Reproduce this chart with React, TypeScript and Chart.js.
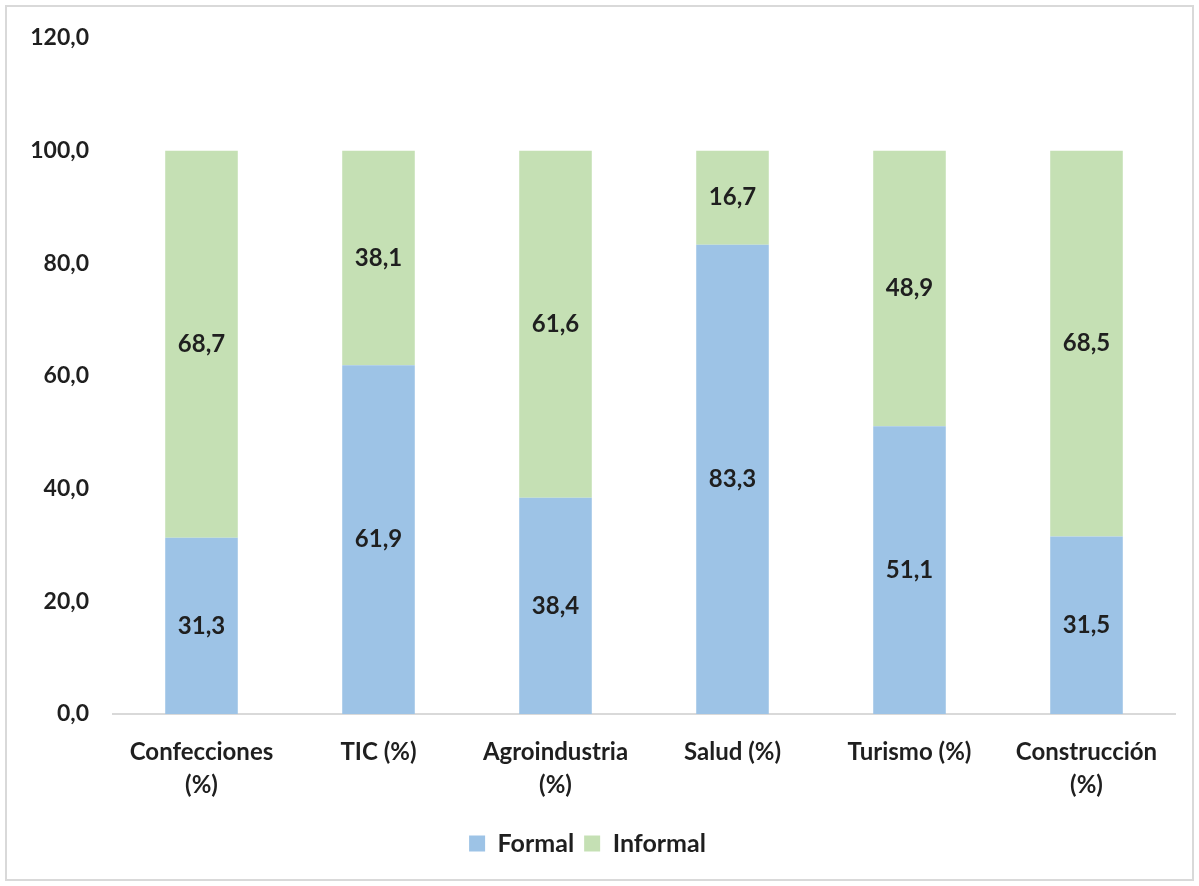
import React, { useEffect, useRef } from "react";
import { Chart, registerables } from "chart.js";

Chart.register(...registerables);

const categories: (string | string[])[] = [
  ["Confecciones", "(%)"],
  "TIC (%)",
  ["Agroindustria", "(%)"],
  "Salud (%)",
  "Turismo (%)",
  ["Construcción", "(%)"],
];
const formalValues = [31.3, 61.9, 38.4, 83.3, 51.1, 31.5];
const informalValues = [68.7, 38.1, 61.6, 16.7, 48.9, 68.5];
const seriesNames = ["Formal", "Informal"];
const yTicks = { min: 0, max: 120, step: 20 };

const FONT = "Lato, 'Open Sans', sans-serif";
const TEXT = "#1f1f1f";

const fmt = (v: number) => v.toFixed(1).replace(".", ",");

const labelPlugin = {
  id: "valueLabels",
  afterDatasetsDraw(chart: any) {
    const ctx = chart.ctx;
    ctx.save();
    ctx.font = `bold 24px ${FONT}`;
    ctx.fillStyle = TEXT;
    ctx.textAlign = "center";
    ctx.textBaseline = "middle";
    chart.data.datasets.forEach((ds: any, di: number) => {
      const meta = chart.getDatasetMeta(di);
      meta.data.forEach((el: any, i: number) => {
        const p = el.getCenterPoint();
        ctx.fillText(fmt(ds.data[i]), p.x, p.y);
      });
    });
    ctx.restore();
  },
};

const borderPlugin = {
  id: "outerBorder",
  beforeDraw(chart: any) {
    const ctx = chart.ctx;
    ctx.save();
    ctx.fillStyle = "#ffffff";
    ctx.fillRect(0, 0, chart.width, chart.height);
    ctx.strokeStyle = "#d9d9d9";
    ctx.lineWidth = 2;
    ctx.strokeRect(6, 6, chart.width - 12, chart.height - 12);
    ctx.restore();
  },
};

export default function App() {
  const ref = useRef<HTMLCanvasElement>(null);
  useEffect(() => {
    if (!ref.current) return;
    const chart = new Chart(ref.current, {
      type: "bar",
      data: {
        labels: categories,
        datasets: [
          {
            label: seriesNames[0],
            data: formalValues,
            backgroundColor: "#9dc3e6",
            barPercentage: 0.41,
            categoryPercentage: 1,
          },
          {
            label: seriesNames[1],
            data: informalValues,
            backgroundColor: "#c5e0b4",
            barPercentage: 0.41,
            categoryPercentage: 1,
          },
        ],
      },
      options: {
        animation: false,
        responsive: false,
        maintainAspectRatio: false,
        layout: { padding: { top: 38, right: 24, bottom: 20, left: 0 } },
        scales: {
          x: {
            stacked: true,
            grid: { display: false, drawTicks: false },
            border: { display: true, color: "#d9d9d9", width: 2 },
            ticks: {
              color: TEXT,
              font: { family: FONT, size: 24, weight: "bold", lineHeight: 1.4 },
              padding: 21,
              maxRotation: 0,
              autoSkip: false,
            },
            afterFit: (s: any) => {
              s.height = 107;
            },
          },
          y: {
            stacked: true,
            min: yTicks.min,
            max: yTicks.max,
            grid: { display: false, drawTicks: false },
            border: { display: false },
            ticks: {
              stepSize: yTicks.step,
              color: TEXT,
              font: { family: FONT, size: 23, weight: "bold" },
              padding: 24,
              callback: (v: any) => fmt(Number(v)),
            },
            afterFit: (s: any) => {
              s.width = 113;
            },
          },
        },
        plugins: {
          legend: {
            position: "bottom",
            labels: {
              color: TEXT,
              font: { family: FONT, size: 25, weight: "bold" },
              boxWidth: 16,
              boxHeight: 16,
              padding: 10,
            },
          },
          tooltip: { enabled: false },
        },
      },
      plugins: [borderPlugin, labelPlugin],
    });
    return () => chart.destroy();
  }, []);
  return (
    <div style={{ position: "absolute", left: 0, top: 0, width: 1199, height: 886 }}>
      <canvas ref={ref} width={1199} height={886} style={{ width: 1199, height: 886 }} />
    </div>
  );
}
